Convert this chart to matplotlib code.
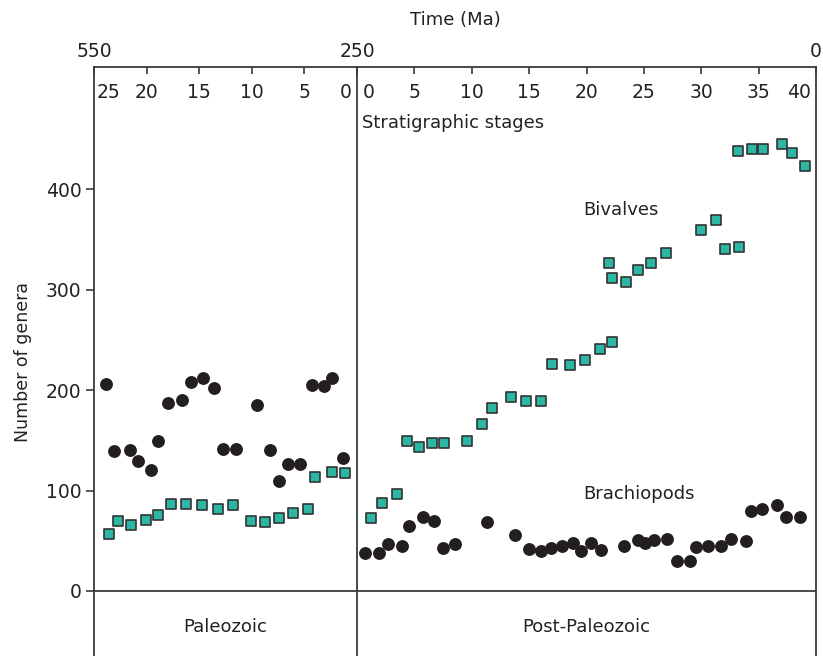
import numpy as np
import matplotlib.pyplot as plt
from matplotlib.transforms import ScaledTranslation

# stage positions and genus counts
paleo_brach_stage = [23.9, 23.1, 21.6, 20.8, 19.6, 18.9, 18.0, 16.6, 15.8, 14.6, 13.6,
                     12.7, 11.5, 9.5, 8.3, 7.4, 6.6, 5.4, 4.3, 3.1, 2.4, 1.3]
paleo_brach_n = [206, 139, 140, 129, 120, 149, 187, 190, 208, 212, 202,
                 141, 141, 185, 140, 109, 126, 126, 205, 204, 212, 132]

paleo_biv_stage = [23.6, 22.7, 21.5, 20.1, 18.9, 17.7, 16.3, 14.7, 13.2, 11.8,
                   10.1, 8.7, 7.4, 6.1, 4.7, 4.0, 2.4, 1.1]
paleo_biv_n = [57, 70, 66, 71, 76, 87, 87, 86, 82, 86,
               70, 69, 73, 78, 82, 113, 118, 117]

post_biv_stage = [1.2, 2.2, 3.5, 4.4, 5.4, 6.5, 7.6, 9.6, 10.9, 11.8, 13.4, 14.7, 16.0,
                  17.0, 18.6, 19.9, 21.2, 22.2, 22.0, 22.2, 23.4, 24.5, 25.6, 26.9,
                  30.0, 31.3, 32.1, 33.3, 33.2, 34.4, 35.4, 37.0, 37.9, 39.0]
post_biv_n = [73, 88, 97, 149, 143, 147, 147, 149, 166, 182, 193, 189, 189,
              226, 225, 230, 241, 248, 326, 311, 307, 319, 326, 336,
              359, 369, 340, 342, 438, 440, 440, 445, 436, 423]

post_brach_stage = [0.7, 1.9, 2.7, 3.9, 4.5, 5.75, 6.7, 7.5, 8.5, 11.35, 13.8, 15.0,
                    16.0, 16.9, 17.9, 18.8, 19.5, 20.4, 21.3, 23.3, 24.5, 25.1, 25.9,
                    27.0, 27.9, 29.0, 29.5, 30.6, 31.7, 32.6, 33.9, 34.3, 35.3,
                    36.6, 37.4, 38.6]
post_brach_n = [38, 38, 47, 45, 65, 74, 70, 43, 47, 69, 56, 42,
                40, 43, 45, 48, 40, 48, 41, 45, 51, 48, 51,
                52, 30, 30, 44, 45, 45, 52, 50, 80, 82,
                86, 74, 74]

paleo_stage_ticks = [25, 20, 15, 10, 5, 0]
post_stage_ticks = [0, 5, 10, 15, 20, 25, 30, 35, 40]
y_ticks = [0, 100, 200, 300, 400]

teal = '#2bb7a3'
dark = '#231f20'
line_col = '#3a3a3a'
txt_col = '#222222'
fs = 13.5

fig = plt.figure(figsize=(8.23, 6.56), dpi=100)
W, H = 823, 656
top = 67
ax1 = fig.add_axes([94 / W, 0, 263 / W, 1 - top / H])
ax2 = fig.add_axes([357 / W, 0, 459 / W, 1 - top / H], sharey=ax1)

ylo, yhi = (591 - 656) / 1.005, (591 - 67) / 1.005

for ax in (ax1, ax2):
    ax.set_ylim(ylo, yhi)
    for sp in ax.spines.values():
        sp.set_color(line_col)
        sp.set_linewidth(1.3)
    ax.spines['bottom'].set_visible(False)
    ax.xaxis.tick_top()
    ax.tick_params(axis='x', direction='in', length=5, width=1.2, color=line_col,
                   pad=-25, labelsize=fs, labelcolor=txt_col)
    ax.axhline(0, color=line_col, lw=1.3)


def nudge(label, dx_px, ha):
    label.set_horizontalalignment(ha)
    label.set_transform(label.get_transform() +
                        ScaledTranslation(dx_px / 100, 0, fig.dpi_scale_trans))


# Paleozoic panel
ax1.set_xlim(25, 0)
ax1.set_xticks(paleo_stage_ticks)
ax1.spines['right'].set_visible(False)
ax1.set_yticks(y_ticks)
ax1.tick_params(axis='y', direction='out', length=6, width=1.2, color=line_col,
                labelsize=fs, labelcolor=txt_col, pad=3)
ax1.set_ylabel('Number of genera', fontsize=12.5, color=txt_col, labelpad=10)
labs = [t.label2 for t in ax1.xaxis.get_major_ticks()]
nudge(labs[0], 3, 'left')
nudge(labs[-1], -5, 'right')

ax1.scatter(paleo_brach_stage, paleo_brach_n, s=68, color=dark, zorder=3)
ax1.scatter(paleo_biv_stage, paleo_biv_n, s=58, marker='s', color=teal,
            edgecolors='#333333', linewidths=1.2, zorder=3)

# Post-Paleozoic panel
ax2.set_xlim(0, 40)
ax2.set_xticks(post_stage_ticks)
ax2.tick_params(axis='y', left=False, labelleft=False)
labs = [t.label2 for t in ax2.xaxis.get_major_ticks()]
nudge(labs[0], 6, 'left')
nudge(labs[-1], -5, 'right')

ax2.scatter(post_brach_stage, post_brach_n, s=68, color=dark, zorder=3)
ax2.scatter(post_biv_stage, post_biv_n, s=58, marker='s', color=teal,
            edgecolors='#333333', linewidths=1.2, zorder=3)

# time axis in Ma on top
sec1 = ax1.secondary_xaxis('top', functions=(lambda s: 250 + 12 * s,
                                              lambda m: (m - 250) / 12))
sec1.set_xticks([550, 250])
sec2 = ax2.secondary_xaxis('top', functions=(lambda s: 250 - 6.25 * s,
                                              lambda m: (250 - m) / 6.25))
sec2.set_xticks([0])
for sec in (sec1, sec2):
    sec.tick_params(length=0, pad=4, labelsize=fs, labelcolor=txt_col)
    sec.spines['top'].set_visible(False)

fig.text(455 / W, 1 - 20 / H, 'Time (Ma)', ha='center', va='center',
         fontsize=13, color=txt_col)

ax2.text(0.011, 466, 'Stratigraphic stages', transform=ax2.get_yaxis_transform(),
         fontsize=13, color=txt_col, va='center')
ax2.text(0.492, 379, 'Bivalves', transform=ax2.get_yaxis_transform(),
         fontsize=13, color=txt_col, va='center')
ax2.text(0.492, 97, 'Brachiopods', transform=ax2.get_yaxis_transform(),
         fontsize=13, color=txt_col, va='center')
ax1.text(0.5, -36, 'Paleozoic', transform=ax1.get_yaxis_transform(),
         fontsize=13, color=txt_col, ha='center', va='center')
ax2.text(0.5, -36, 'Post-Paleozoic', transform=ax2.get_yaxis_transform(),
         fontsize=13, color=txt_col, ha='center', va='center')

fig.savefig('out.png', dpi=100)
